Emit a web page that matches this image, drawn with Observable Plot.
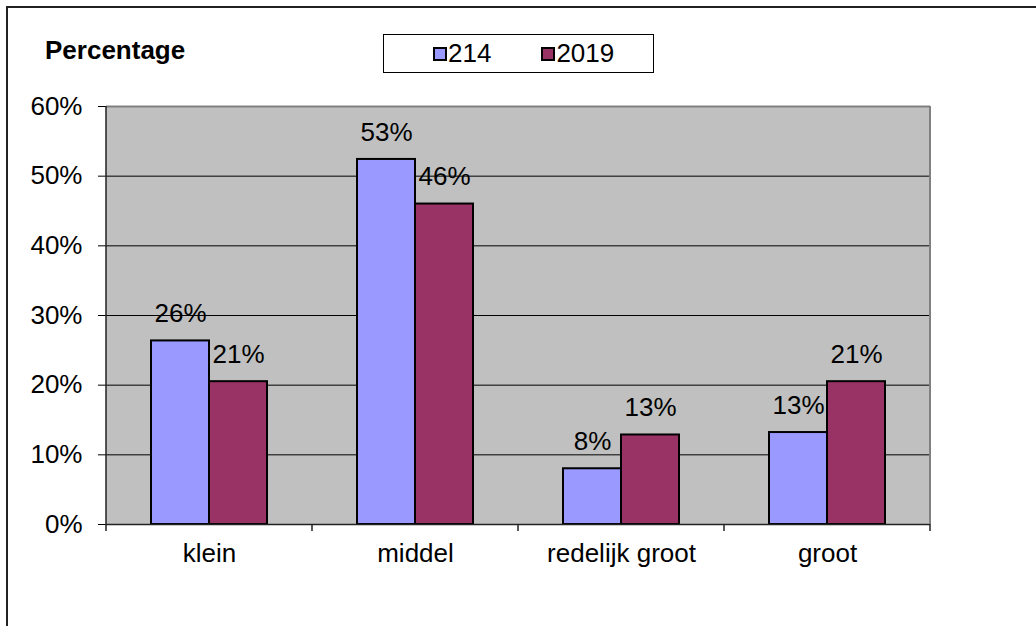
<!DOCTYPE html>
<html>
<head>
<meta charset="utf-8">
<script src="https://cdn.jsdelivr.net/npm/d3@7"></script>
<script src="https://cdn.jsdelivr.net/npm/@observablehq/plot@0.6"></script>
<style>
  html, body { margin: 0; padding: 0; background: #fff; overflow: hidden; }
  #wrap { position: relative; width: 1036px; height: 626px; overflow: hidden; font-family: "Liberation Sans", Arial, sans-serif; }
  #border { position: absolute; left: 6px; top: 6px; width: 1100px; height: 700px; border-left: 2px solid #222; border-top: 2px solid #222; }
  #title { position: absolute; left: 45px; top: 36px; font-weight: bold; font-size: 26px; line-height: 28px; color: #000; }
  #legend { position: absolute; left: 383px; top: 34px; width: 220px; height: 37px; border: 1px solid #000; background: #fff; display: flex; align-items: center; justify-content: flex-start; padding-left: 49px; gap: 50px; font-size: 26px; box-sizing: content-box; }
  .item { display: flex; align-items: center; }
  .sw { width: 10px; height: 10px; border: 2px solid #000; margin-right: 1px; }
  #chart { position: absolute; left: 0; top: 0; }
</style>
</head>
<body>
<div id="wrap">
  <div id="border"></div>
  <div id="chart"></div>
  <div id="title">Percentage</div>
  <div id="legend"></div>
</div>
<script>
const categories = ["klein", "middel", "redelijk groot", "groot"];
const series = ["214", "2019"];
const colors = ["#9999FF", "#993366"];
const values214 = [26.35, 52.4, 8.0, 13.2];
const values2019 = [20.5, 46.0, 12.85, 20.5];
const labels214 = ["26%", "53%", "8%", "13%"];
const labels2019 = ["21%", "46%", "13%", "21%"];
const yTicks = [0, 10, 20, 30, 40, 50, 60];

const data = [];
categories.forEach((c, i) => {
  data.push({category: c, series: series[0], value: values214[i], label: labels214[i]});
  data.push({category: c, series: series[1], value: values2019[i], label: labels2019[i]});
});

const W = 1036, H = 626;
const chart = Plot.plot({
  width: W,
  height: H,
  marginLeft: 106,
  marginRight: 106,
  marginTop: 106,
  marginBottom: 102,
  style: {fontFamily: "'Liberation Sans', Arial, sans-serif", fontSize: "26px", background: "transparent", color: "#000"},
  fx: {domain: categories, padding: 0, axis: "bottom", label: null, tickSize: 0, tickPadding: 19},
  x: {domain: series, paddingInner: 0, paddingOuter: 0.7458, axis: null},
  y: {domain: [0, 60], ticks: yTicks, tickFormat: d => d + "%", label: null, tickSize: 8, tickPadding: 16},
  color: {domain: series, range: colors},
  marks: [
    Plot.frame({fill: "#C0C0C0", stroke: "#C0C0C0", strokeWidth: 1}),
    Plot.ruleY(yTicks.slice(1, -1), {stroke: "#000", strokeWidth: 1}),
    Plot.ruleY([60], {stroke: "#808080", strokeWidth: 2}),
    Plot.barY(data, {fx: "category", x: "series", y: "value", fill: "series", stroke: "#000", strokeWidth: 2}),
    Plot.text(data, {fx: "category", x: "series", y: "value", text: "label", dy: -27, fontSize: 26, fill: "#000"}),
    Plot.ruleY([0], {stroke: "#222", strokeWidth: 1.5})
  ]
});
document.getElementById("chart").appendChild(chart);

// extra axis decorations from the library's scales
const fxs = chart.scale("fx");
const ys = chart.scale("y");
const band = d3.scaleBand().domain(fxs.domain).range(fxs.range).padding(0);
const yScale = d3.scaleLinear().domain(ys.domain).range(ys.range);
const svg = d3.select(chart.tagName.toLowerCase() === "svg" ? chart : chart.querySelector("svg"));
const g = svg.append("g");
const y0 = yScale(0), yTop = yScale(60);
const bounds = categories.map(c => band(c)).concat([band(categories[categories.length - 1]) + band.bandwidth()]);
bounds.forEach(b => {
  g.append("line").attr("x1", b).attr("x2", b).attr("y1", y0).attr("y2", y0 + 7).attr("stroke", "#222").attr("stroke-width", 1.5);
});
const xR = bounds[bounds.length - 1];
g.append("line").attr("x1", xR).attr("x2", xR).attr("y1", yTop).attr("y2", y0).attr("stroke", "#808080").attr("stroke-width", 2);
g.append("line").attr("x1", bounds[0]).attr("x2", bounds[0]).attr("y1", yTop).attr("y2", y0).attr("stroke", "#222").attr("stroke-width", 1.5);

// legend
const lg = document.getElementById("legend");
series.forEach((s, i) => {
  const it = document.createElement("div");
  it.className = "item";
  const sw = document.createElement("div");
  sw.className = "sw";
  sw.style.background = colors[i];
  const t = document.createElement("span");
  t.textContent = s;
  it.appendChild(sw); it.appendChild(t);
  lg.appendChild(it);
});
</script>
</body>
</html>
